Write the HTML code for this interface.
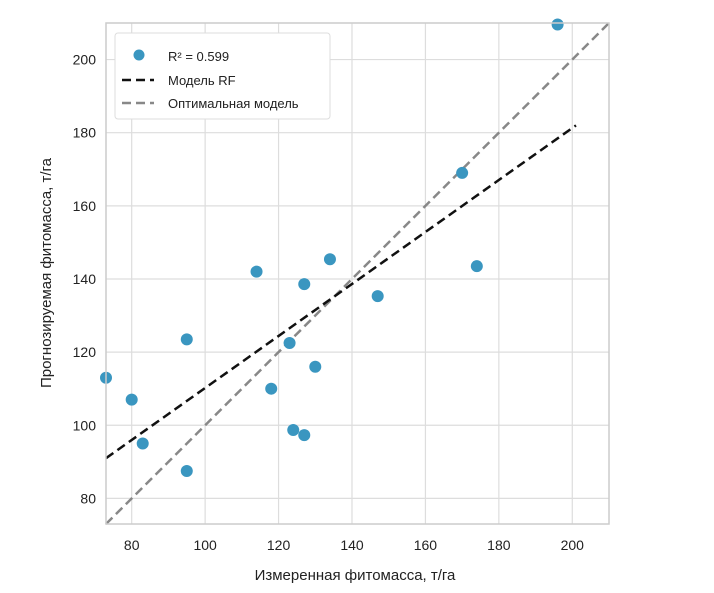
<!DOCTYPE html>
<html><head><meta charset="utf-8"><style>
body{margin:0;background:#fff;}
svg text{font-family:"Liberation Sans","DejaVu Sans",sans-serif;fill:#222;}
</style></head><body>
<svg width="714" height="588">
<g id="grid"></g>
<g id="lines"></g>
<g id="pts"></g>
<rect x="106" y="23" width="503" height="501" fill="none" stroke="#ccc" stroke-width="1.5"/>
<g>
<rect x="115" y="33" width="215" height="86" fill="#fff" stroke="#ddd" rx="3"/>
<circle cx="139" cy="55" r="5.5" fill="#3a96c0"/>
<text x="168" y="61" font-size="13">R² = 0.599</text>
<line x1="122" y1="80" x2="154" y2="80" stroke="#111" stroke-width="2.5" stroke-dasharray="9,5"/>
<text x="168" y="85" font-size="13">Модель RF</text>
<line x1="122" y1="103" x2="154" y2="103" stroke="#888" stroke-width="2.5" stroke-dasharray="9,5"/>
<text x="168" y="108" font-size="13">Оптимальная модель</text>
</g>
<text x="355" y="580" font-size="15" text-anchor="middle">Измеренная фитомасса, т/га</text>
<text transform="translate(51,273) rotate(-90)" font-size="15" text-anchor="middle">Прогнозируемая фитомасса, т/га</text>
</svg>
<script>
const xTicks=[80,100,120,140,160,180,200];
const yTicks=[80,100,120,140,160,180,200];
const measured=[73,80,83,95,95,114,118,123,124,127,127,130,134,147,170,174,196];
const predicted=[113,107,95,123.5,87.5,142,110,122.5,98.7,138.6,97.3,116,145.4,135.3,169,143.5,209.6];
const rfLine=[[73,91],[201,182]];
const optLine=[[73,73],[210,210]];
const X0=73,X1=210,Y0=73,Y1=210,L=106,R=609,T=23,B=524;
const sx=v=>L+(v-X0)/(X1-X0)*(R-L);
const sy=v=>B-(v-Y0)/(Y1-Y0)*(B-T);
const NS="http://www.w3.org/2000/svg";
function mk(t,a,p){const e=document.createElementNS(NS,t);for(const k in a)e.setAttribute(k,a[k]);p.appendChild(e);return e;}
const g=document.getElementById('grid');
xTicks.forEach(v=>{
 const l=mk('line',{x1:sx(v),x2:sx(v),y1:T,y2:B,stroke:'#ddd','stroke-width':1.2},g);
 
 
 const t=mk('text',{x:sx(v),y:550,'font-size':14,'text-anchor':'middle'},g);t.textContent=v;
 
 
});
yTicks.forEach(v=>{
 const l=mk('line',{x1:L,x2:R,y1:sy(v),y2:sy(v),stroke:'#ddd','stroke-width':1.2},g);
 
 
 const t=mk('text',{x:96,y:sy(v)+5,'font-size':14,'text-anchor':'end'},g);t.textContent=v;
 
 
});
const lg=document.getElementById('lines');
const o=mk('line',{x1:sx(optLine[0][0]),y1:sy(optLine[0][1]),x2:sx(optLine[1][0]),y2:sy(optLine[1][1]),stroke:'#888','stroke-width':2.5,'stroke-dasharray':'9,5'},lg);


const r=mk('line',{x1:sx(rfLine[0][0]),y1:sy(rfLine[0][1]),x2:sx(rfLine[1][0]),y2:sy(rfLine[1][1]),stroke:'#111','stroke-width':2.5,'stroke-dasharray':'9,5'},lg);


const pg=document.getElementById('pts');
measured.forEach((m,i)=>{
 const c=mk('circle',{cx:sx(m),cy:sy(predicted[i]),r:6,fill:'#3a96c0'},pg);
 
 
});
</script>
</body></html>
